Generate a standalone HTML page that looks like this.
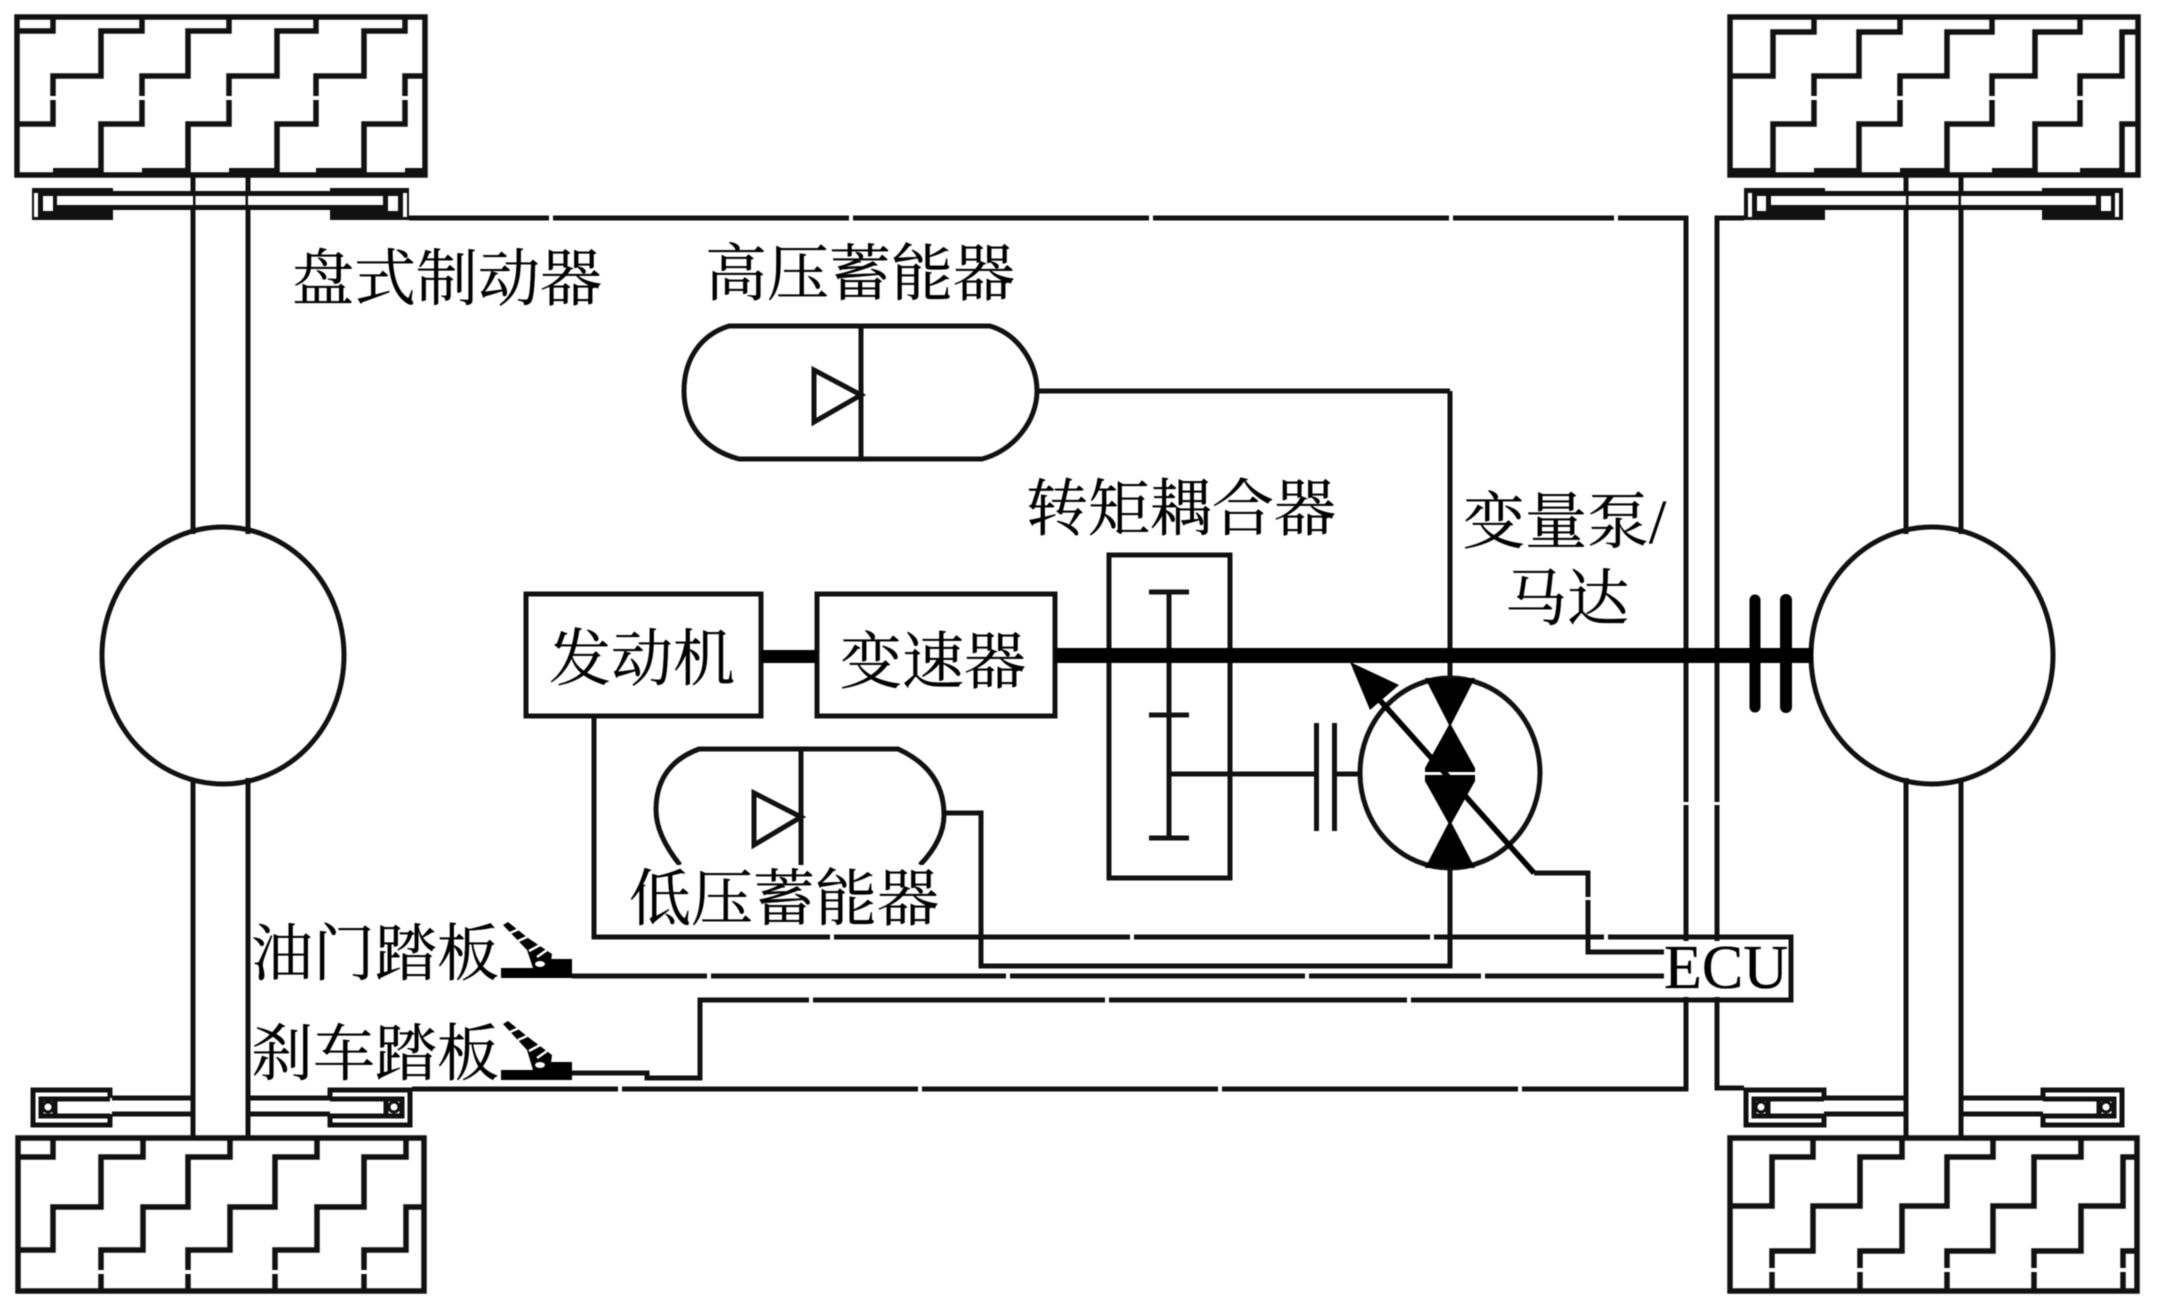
<!DOCTYPE html>
<html><head><meta charset="utf-8"><style>
html,body{margin:0;padding:0;background:#fff;width:2164px;height:1314px;overflow:hidden}
svg{display:block;filter:blur(.55px)}
text{font-family:"Liberation Serif","Noto Serif CJK SC",serif;font-size:62px;fill:#000;stroke:#000;stroke-width:.35}
.l{fill:none;stroke:#111;stroke-width:5;stroke-linejoin:miter}
.t{fill:none;stroke:#111;stroke-width:5.5}
.g{fill:#fff}
</style></head><body>
<svg width="2164" height="1314" viewBox="0 0 2164 1314" xmlns="http://www.w3.org/2000/svg">
<rect width="2164" height="1314" fill="#fff"/>

<!-- Tyres -->
<g class="t">
<rect x="17" y="17" width="408" height="158"/>
<path d="M53 17V31H17M142 17V31H101V76H53V124H17M229 17V31H188V76H142V124H101V175M316 17V31H277V76H229V124H188V175M405 17V31H364V76H316V124H277V175M425 76H405V124H364V175"/>
<rect x="18" y="1138" width="406" height="153"/>
<path d="M53 1138V1157H18M143 1138V1157H101V1207H53V1250H18M230 1138V1157H188V1207H143V1250H101V1291M317 1138V1157H275V1207H230V1250H188V1291M406 1138V1157H364V1207H317V1250H275V1291M424 1207H406V1250H364V1291"/>
<rect x="1730" y="17" width="408" height="158"/>
<path d="M1814 17V32H1773V76H1730M1900 17V32H1859V76H1814V124H1773V175M1992 17V32H1947V76H1900V124H1859V175M2080 17V32H2035V76H1992V124H1947V175M2138 32H2122V76H2080V124H2035V175M2138 124H2122V175"/>
<rect x="1730" y="1138" width="407" height="153"/>
<path d="M1813 1138V1157H1772V1206H1730M1902 1138V1157H1860V1206H1813V1251H1772V1291M1993 1138V1157H1947V1206H1902V1251H1860V1291M2081 1138V1157H2034V1206H1993V1251H1947V1291M2137 1157H2123V1206H2081V1251H2034V1291M2137 1251H2123V1291"/>
</g>
<g fill="#111">
<rect x="53" y="168" width="48" height="7"/><rect x="142" y="168" width="46" height="7"/><rect x="229" y="168" width="48" height="7"/><rect x="316" y="168" width="48" height="7"/><rect x="405" y="168" width="20" height="7"/>
<rect x="1730" y="168" width="43" height="7"/><rect x="1814" y="168" width="45" height="7"/><rect x="1900" y="168" width="47" height="7"/><rect x="1992" y="168" width="43" height="7"/><rect x="2080" y="168" width="42" height="7"/>
</g>
<g class="g">
<rect x="50" y="96" width="6" height="4"/><rect x="139" y="96" width="6" height="4"/><rect x="226" y="96" width="6" height="4"/><rect x="313" y="96" width="6" height="4"/><rect x="402" y="96" width="6" height="4"/>
<rect x="1811" y="96" width="6" height="4"/><rect x="1897" y="96" width="6" height="4"/><rect x="1989" y="96" width="6" height="4"/><rect x="2077" y="96" width="6" height="4"/>
<rect x="98" y="1270" width="6" height="4"/><rect x="185" y="1270" width="6" height="4"/><rect x="272" y="1270" width="6" height="4"/><rect x="361" y="1270" width="6" height="4"/>
<rect x="1769" y="1268" width="6" height="4"/><rect x="1857" y="1268" width="6" height="4"/><rect x="1944" y="1268" width="6" height="4"/><rect x="2031" y="1268" width="6" height="4"/><rect x="2120" y="1268" width="6" height="4"/>
</g>

<!-- Axle shafts -->
<g class="l">
<path d="M193 175V534M248 175V534M193 778V1138M248 778V1138"/>
<path d="M1906 175V534M1961 175V534M1906 778V1138M1961 778V1138"/>
</g>

<!-- Top calipers -->
<g fill="#111">
<rect x="32" y="188" width="81" height="32"/><rect x="330" y="188" width="79" height="32"/>
<rect x="113" y="191" width="217" height="5"/><rect x="113" y="205" width="217" height="5"/>
<rect x="1744" y="188" width="81" height="32"/><rect x="2042" y="188" width="81" height="32"/>
<rect x="1825" y="191" width="217" height="5"/><rect x="1825" y="205" width="217" height="5"/>
</g>
<g class="g">
<rect x="57" y="196" width="136" height="9"/><rect x="248" y="196" width="135" height="9"/>
<rect x="34" y="193" width="4" height="24"/><rect x="43" y="196" width="10" height="15"/>
<rect x="388" y="196" width="10" height="15"/><rect x="403" y="193" width="4" height="24"/>
<rect x="1771" y="196" width="135" height="9"/><rect x="1961" y="196" width="135" height="9"/>
<rect x="1748" y="193" width="4" height="24"/><rect x="1757" y="196" width="9" height="15"/>
<rect x="2101" y="196" width="10" height="15"/><rect x="2115" y="193" width="4" height="24"/>
</g>

<!-- Bottom calipers -->
<g class="l" stroke-linejoin="round">
<path d="M112 1098H193M112 1114H193M248 1098H330M248 1114H330"/>
<path d="M110 1098V1090H33V1125H110V1114M330 1098V1090H410V1125H330V1114"/>
<path d="M110 1099H41V1116H110M330 1099H402V1116H330"/>
<path d="M1824 1098H1906M1824 1114H1906M1961 1098H2043M1961 1114H2043"/>
<path d="M1824 1098V1090H1746V1125H1824V1114M2043 1098V1090H2122V1125H2043V1114"/>
<path d="M1824 1099H1754V1116H1824M2043 1099H2114V1116H2043"/>
<path d="M55 1099V1116M386 1099V1116M1768 1099V1116M2099 1099V1116"/>
</g>
<g class="g" stroke="#111" stroke-width="3">
<circle cx="48" cy="1107" r="5"/><circle cx="394" cy="1107" r="5"/>
<circle cx="1761" cy="1107" r="5"/><circle cx="2106" cy="1107" r="5"/>
</g>

<!-- Wheels -->
<g class="l" stroke-width="4.5">
<ellipse cx="223" cy="655.5" rx="121" ry="128.5"/>
<ellipse cx="1932" cy="655.5" rx="121" ry="128.5"/>
</g>

<!-- Frame and control lines -->
<g class="l">
<path d="M409 218H1686V1089H412"/>
<path d="M1744 218H1717V1088H1744"/>
<path d="M594 716V937H1791V1000H700V1078H647V1073H572"/>
<path d="M1450 391H1037"/>
<path d="M1450 391V678"/>
<path d="M944 813H981V966H1450V868"/>
<path d="M572 976H1664"/>
<path d="M1534 873H1588V952H1664"/>
<path d="M1791 937V1000"/>
</g>
<g class="g">
<rect x="549" y="214" width="4" height="8"/><rect x="849" y="214" width="4" height="8"/><rect x="1149" y="214" width="4" height="8"/><rect x="1449" y="214" width="4" height="8"/><rect x="1614" y="214" width="4" height="8"/>
<rect x="618" y="1085" width="4" height="8"/><rect x="918" y="1085" width="4" height="8"/><rect x="1218" y="1085" width="4" height="8"/><rect x="1518" y="1085" width="4" height="8"/>
<rect x="830" y="933" width="4" height="8"/><rect x="1130" y="933" width="4" height="8"/><rect x="1430" y="933" width="4" height="8"/><rect x="1604" y="933" width="4" height="8"/>
<rect x="707" y="972" width="4" height="8"/><rect x="1006" y="972" width="4" height="8"/><rect x="1305" y="972" width="4" height="8"/><rect x="1481" y="972" width="4" height="8"/>
<rect x="809" y="996" width="4" height="8"/><rect x="1105" y="996" width="4" height="8"/><rect x="1407" y="996" width="4" height="8"/>
<rect x="1682" y="802" width="8" height="3"/><rect x="1713" y="802" width="8" height="3"/><rect x="1584" y="897" width="8" height="3"/>
</g>

<!-- Pedals -->
<g id="pedal1">
<path d="M501 968H549V959H572V978H501Z" fill="#000"/>
<path d="M503 925L508 922L528 938L552 954L550 968L533 968L527 950Z" fill="#000"/>
<ellipse cx="540" cy="964" rx="5" ry="3" fill="#fff"/>
<path d="M510 933L519 929M518 941L527 937M529 951L540 945M537 957L547 950" stroke="#fff" stroke-width="2.5" fill="none"/>
</g>
<g>
<path d="M501 1070H549V1062H572V1080H501Z" fill="#000"/>
<path d="M503 1024L508 1021L528 1037L552 1055L550 1070L533 1070L527 1050Z" fill="#000"/>
<ellipse cx="540" cy="1065" rx="5" ry="3" fill="#fff"/>
<path d="M510 1032L519 1028M518 1040L527 1036M529 1051L540 1045M537 1058L547 1051" stroke="#fff" stroke-width="2.5" fill="none"/>
</g>

<!-- High pressure accumulator -->
<g class="l">
<path d="M729 326H990C1020 335 1037 365 1037 391C1037 420 1015 450 982 459H739C705 450 684 425 684 391C684 360 700 335 729 326Z"/>
<path d="M861 326V459M861 395L814 370V422Z"/>
</g>

<!-- Low pressure accumulator -->
<g class="l">
<path d="M680 865Q656 835 656 810Q656 765 699 749H898Q944 770 944 815Q944 840 920 865"/>
<path d="M801 749V865M801 817L754 793V845Z"/>
</g>

<!-- Boxes -->
<g class="l">
<rect x="526" y="594" width="235" height="122"/>
<rect x="817" y="594" width="238" height="122"/>
<rect x="1109" y="555" width="121" height="323"/>
<path d="M1169 592V838M1149 592H1189M1149 715H1189M1149 838H1189"/>
<path d="M1169 774H1316M1334 774H1360"/>
<path d="M1316.5 723V831M1334.5 723V831"/>
</g>

<!-- Main shaft -->
<rect x="761" y="650" width="56" height="13" fill="#000"/>
<rect x="1055" y="648" width="758" height="15" fill="#000"/>
<g stroke="#000" stroke-width="11" stroke-linecap="round">
<path d="M1755 600V707"/>
</g>
<g stroke="#000" stroke-width="12" stroke-linecap="round">
<path d="M1786 600V707"/>
</g>

<!-- Pump/motor -->
<ellipse class="l" cx="1450" cy="773" rx="90" ry="95" stroke-width="4.5"/>
<g fill="#000">
<path d="M1425 678H1475L1450 727Z"/>
<path d="M1450 723L1475 768H1425Z"/>
<path d="M1425 781H1475L1450 826Z"/>
<path d="M1450 820L1475 868H1425Z"/>
<rect x="1425" y="768" width="50" height="14"/>
</g>
<rect x="1424" y="772" width="52" height="3" fill="#fff"/>

<!-- Variable arrow -->
<path d="M1534 873L1377 697" fill="none" stroke="#000" stroke-width="5.5"/>
<path d="M1350 662L1399 685L1370 710Z" fill="#000"/>

<!-- Labels -->
<rect x="632" y="865" width="310" height="66" fill="#fff"/>
<rect x="1664" y="941" width="124" height="56" fill="#fff"/>
<text x="292" y="300">盘式制动器</text>
<text x="705" y="295">高压蓄能器</text>
<text x="1026" y="530">转矩耦合器</text>
<text x="1463" y="543">变量泵/</text>
<text x="1505" y="620">马达</text>
<text x="549" y="680">发动机</text>
<text x="840" y="683">变速器</text>
<text x="629" y="920">低压蓄能器</text>
<text x="251" y="975">油门踏板</text>
<text x="251" y="1075">刹车踏板</text>
<text x="1664" y="988">ECU</text>
</svg>
</body></html>
